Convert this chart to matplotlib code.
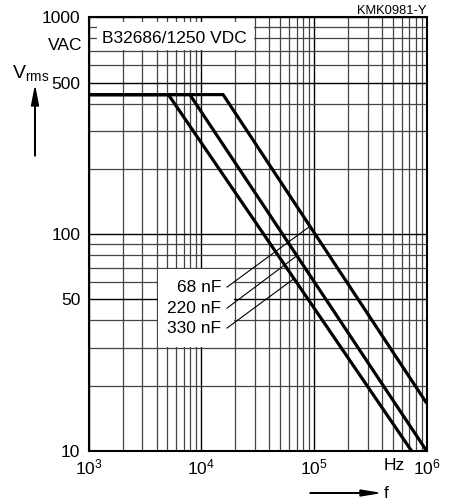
import numpy as np
import matplotlib
matplotlib.use("Agg")
import matplotlib.pyplot as plt
from matplotlib.ticker import FixedLocator, NullFormatter, LogLocator

plt.rcParams['font.family'] = ['Liberation Sans', 'DejaVu Sans']
plt.rcParams['mathtext.fontset'] = 'custom'
plt.rcParams['mathtext.rm'] = 'Liberation Sans'
plt.rcParams['mathtext.it'] = 'Liberation Sans'

# Data: (frequency Hz, Vrms) corner points of each curve
labels = ["68 nF", "220 nF", "330 nF"]
freq_68 = [1e3, 1.56e4, 1e6]
volt_68 = [440, 440, 16.6]
freq_220 = [1e3, 7.9e3, 1e6]
volt_220 = [440, 440, 10]
freq_330 = [1e3, 5.1e3, 7.35e5]
volt_330 = [440, 440, 10]
# where leader lines touch each curve (frequency)
leader_freq = [9.2e4, 7.05e4, 6.64e4]
label_volt = [57.0, 45.6, 36.9]

x_ticks = [1e3, 1e4, 1e5, 1e6]
x_ticklabels = [r'$\mathregular{10^3}$', r'$\mathregular{10^4}$', r'$\mathregular{10^5}$', r'$\mathregular{10^6}$']
y_ticks = [10, 50, 100, 500, 1000]
y_ticklabels = ['10', '50', '100', '500', '1000']

fig = plt.figure(figsize=(4.49, 5.04), dpi=100)
ax = fig.add_axes([88.7/449, 1-451/504, (426.7-88.7)/449, (451-17.3)/504])
ax.set_xscale('log')
ax.set_yscale('log')
ax.set_xlim(1e3, 1e6)
ax.set_ylim(10, 1000)

ax.xaxis.set_major_locator(FixedLocator(x_ticks))
ax.xaxis.set_minor_locator(LogLocator(base=10, subs=np.arange(2, 10)))
ax.yaxis.set_major_locator(FixedLocator(y_ticks))
ax.yaxis.set_minor_locator(LogLocator(base=10, subs=np.arange(2, 10)))
ax.xaxis.set_minor_formatter(NullFormatter())
ax.yaxis.set_minor_formatter(NullFormatter())
ax.set_xticklabels(x_ticklabels)
ax.set_yticklabels(y_ticklabels)
ax.tick_params(which='both', length=0, labelsize=12.5)
ax.tick_params(axis='y', pad=6)
ax.tick_params(axis='x', pad=5)

ax.grid(True, which='major', color='black', lw=1.0, zorder=1)
ax.grid(True, which='minor', color='#444444', lw=0.9, zorder=1)
ax.set_axisbelow(True)
for s in ax.spines.values():
    s.set_linewidth(1.5)
    s.set_zorder(6)

curves = [(freq_68, volt_68), (freq_220, volt_220), (freq_330, volt_330)]
for f, v in curves:
    ax.plot(f, v, color='black', lw=2.3, solid_capstyle='butt', zorder=4)

# white label box covering grid (grid lines on its edges stay visible)
ax.fill([4.08e3, 1.96e4, 1.96e4, 4.08e3], [30.3, 30.3, 69.3, 69.3], color='white', zorder=2, lw=0)
# header box
ax.fill([1.185e3, 2.93e4, 2.93e4, 1.185e3], [706, 706, 951, 951], color='white', zorder=2, lw=0)
ax.text(1.3e3, 800, 'B32686/1250 VDC', fontsize=12.5, va='center', ha='left', zorder=5)

for (f, v), lab, lf, lv in zip(curves, labels, leader_freq, label_volt):
    yv = 10 ** np.interp(np.log10(lf), np.log10(f), np.log10(v))
    ax.plot([1.69e4, lf], [lv, yv], color='black', lw=0.8, zorder=3)
    ax.text(1.49e4, lv, lab, fontsize=12.5, ha='right', va='center', zorder=5)

# extra text
fig.text(426/449, 1-11/504, 'KMK0981-Y', fontsize=9.3, ha='right', va='center')
fig.text(82/449, 1-46/504, 'VAC', fontsize=12.5, ha='right', va='center')
fig.text(12/449, 1-73/504, r'$\mathregular{V_{rms}}$', fontsize=14, ha='left', va='center')
fig.text(394/449, 1-466/504, 'Hz', fontsize=12.5, ha='center', va='center')
fig.text(384/449, 1-493/504, 'f', fontsize=12.5, ha='left', va='center')

fig.patches.append(matplotlib.patches.FancyArrow(
    35/449, 1-156/504, 0, (156-88)/504, width=0.0012, head_width=7/449,
    head_length=18/504, length_includes_head=True, color='black',
    transform=fig.transFigure, figure=fig))
fig.patches.append(matplotlib.patches.FancyArrow(
    310/449, 1-493/504, (378-310)/449, 0, width=0.0012*504/449*0.9, head_width=6/504,
    head_length=18/449, length_includes_head=True, color='black',
    transform=fig.transFigure, figure=fig))

fig.savefig('out.png', dpi=100)
